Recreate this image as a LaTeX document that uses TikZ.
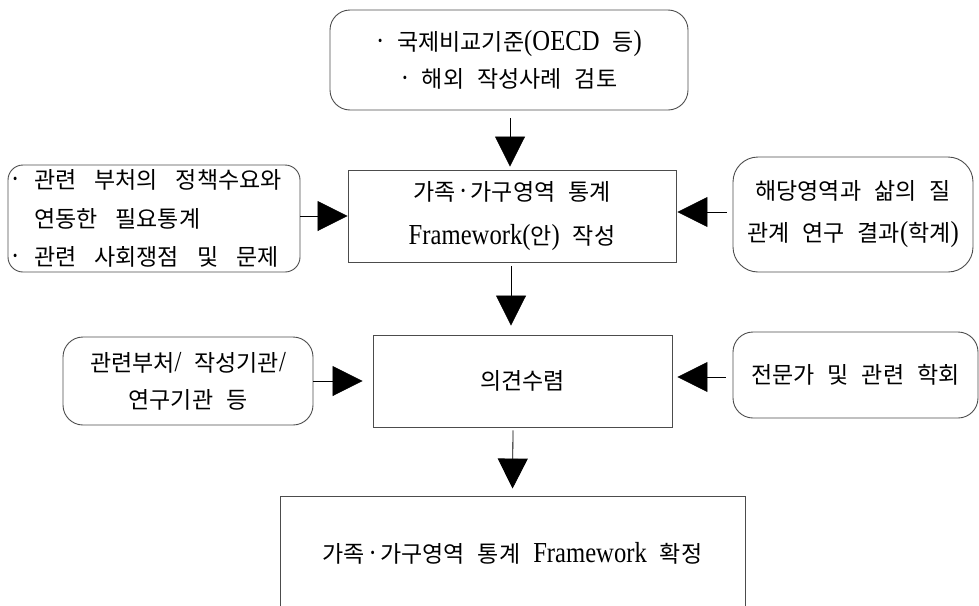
\documentclass[tikz,border=0pt]{standalone}
\usepackage{fontspec}
% condensed serif for Latin, plain CJK sans for Hangul
\setmainfont[FakeStretch=0.85]{Liberation Serif}
\newfontfamily\kr[Scale=0.793]{Noto Sans CJK KR}
\usetikzlibrary{arrows.meta}
% Hangul runs are set in the CJK family, everything else in the serif
\newcommand\K[1]{{\kr #1}}
\newcommand\md{\hspace{3.5pt}·\hspace{3.5pt}}
% label font with wide interword spaces
\protected\def\boxfont{\fontsize{29}{37}\selectfont\spaceskip=13pt\relax}
\protected\def\widespaces{\spaceskip=18pt\relax}

\begin{document}
\begin{tikzpicture}[x=1pt,y=-1pt,
  box/.style={draw=black!70, line width=0.9pt, inner sep=0pt, align=center,
    font=\boxfont},
  rbox/.style={box, rounded corners=#1},
  rbox/.default=20pt,
  link/.style={draw=black, line width=0.8pt, -{Triangle[length=30pt,width=30pt]}}
]
\useasboundingbox (0,0) rectangle (979,605);

% sources and the central boxes
\node[rbox=20pt, minimum width=358pt, minimum height=100pt] (top) at (509,60)
  {·\ \K{국제비교기준}(OECD \K{등})\\·\ \K{해외 작성사례 검토}};

\node[box, minimum width=328pt, minimum height=92pt] (main1) at (512,216)
  {\K{가족}\md\K{가구영역 통계}\\[7pt]Framework(\K{안}) \K{작성}};

\node[rbox=15pt, minimum width=292pt, minimum height=107pt, align=left,
      text width=286pt] (left1) at (154,218.5)
  {\widespaces
   ·\hspace{15pt}\K{관련 부처의 정책수요와}\\[2pt]
   \phantom{·}\hspace{15pt}\K{연동한 필요통계}\\[1pt]
   ·\hspace{15pt}\K{관련 사회쟁점 및 문제}};

\node[rbox=25pt, minimum width=240pt, minimum height=115pt] (right1) at (853,214.5)
  {\K{해당영역과 삶의 질}\\[5pt]\K{관계 연구 결과}(\K{학계})};

\node[box, minimum width=299pt, minimum height=92pt] (main2) at (522.5,381)
  {\K{의견수렴}};

\node[rbox=20pt, minimum width=250pt, minimum height=88pt] (left2) at (188,381)
  {\K{관련부처}/ \K{작성기관}/\\\K{연구기관 등}};

\node[rbox=20pt, minimum width=245pt, minimum height=86pt] (right2) at (855.5,375)
  {\K{전문가 및 관련 학회}};

\node[box, minimum width=465pt, minimum height=114pt] (bot) at (512.5,553)
  {\K{가족}\md\K{가구영역 통계} Framework \K{확정}};

% flow arrows
\draw[link, shorten <=8pt, shorten >=3pt] ([xshift=1pt]top.south) -- ([xshift=-2pt]main1.north);
\draw[link, shorten <=4pt, shorten >=9pt] ([xshift=-1pt]main1.south) -- ([xshift=-11.5pt]main2.north);
\draw[link, shorten <=3pt, shorten >=7pt] ([xshift=-9.5pt]main2.south) -- (bot.north);

\draw[link] (left1.east |- main1.west) -- (main1.west);
\draw[link, shorten <=6pt, shorten >=1pt] ([yshift=2.5pt]right1.west) -- ([yshift=4pt]main1.east);
\draw[link, shorten >=10pt] (left2.east) -- (main2.west);
\draw[link, shorten <=7pt, shorten >=5pt] ([yshift=-2pt]right2.west) -- ([yshift=4pt]main2.east);
\end{tikzpicture}
\end{document}
